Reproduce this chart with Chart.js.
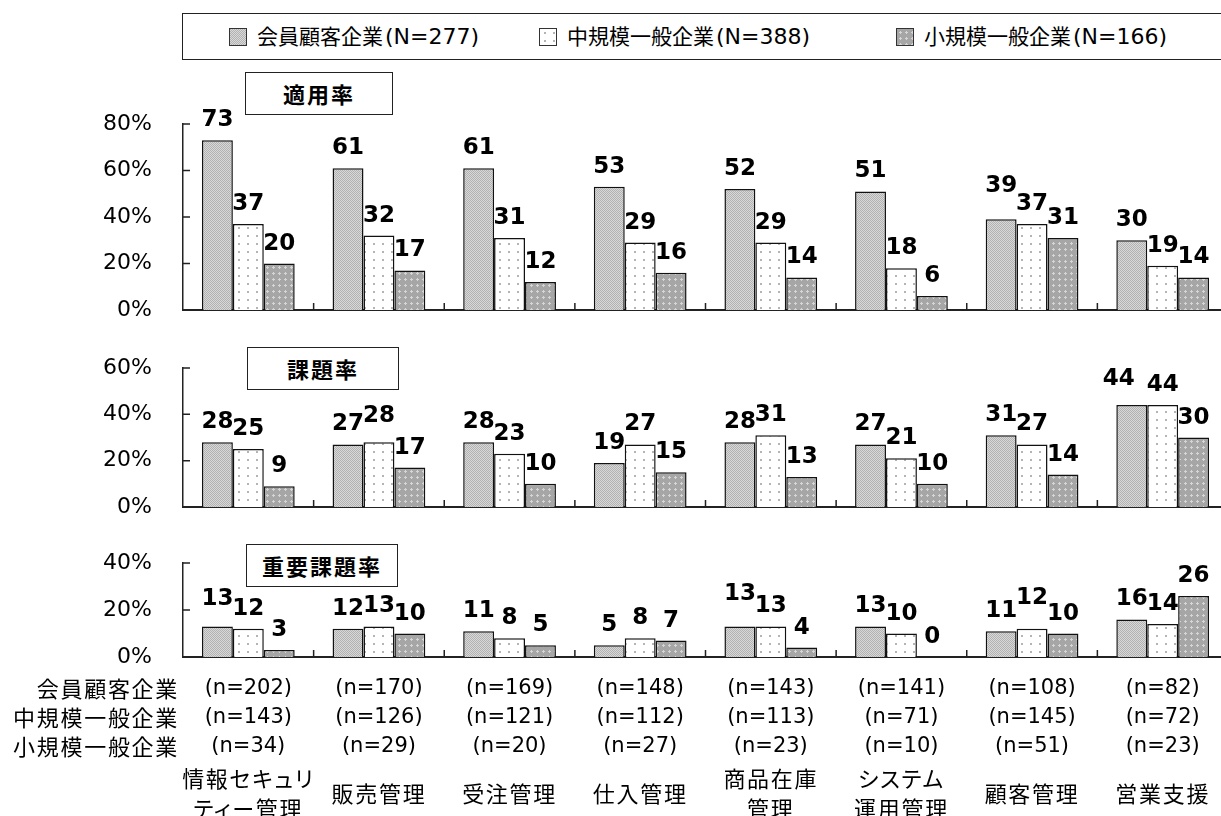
<!DOCTYPE html>
<html>
<head>
<meta charset="utf-8">
<script src="https://cdn.jsdelivr.net/npm/chart.js@4/dist/chart.umd.min.js"></script>
<style>
  html, body { margin: 0; padding: 0; background: #fff; overflow: hidden; }
  #wrap { position: relative; width: 1221px; height: 816px; overflow: hidden; background: #fff; }
  canvas.panel { position: absolute; left: 0; top: 0; }
  .t { position: absolute; white-space: nowrap; color: #000;
       font-family: "DejaVu Sans", "Noto Sans CJK JP", sans-serif; }
  .jp { font-family: "Noto Sans CJK JP", sans-serif; font-size: 22px; letter-spacing: 1.7px;
        font-feature-settings: "palt"; }
  .num { font-family: "DejaVu Sans", sans-serif; font-size: 21px; }
  #legend { position: absolute; left: 182px; top: 13px; width: 1100px; height: 45px;
            border: 1.5px solid #222; background: #fff; z-index: 2; }
  .sw { position: absolute; width: 16px; height: 16px; border: 1px solid #333; }
  .ltxt { position: absolute; font-size: 21px; line-height: 24px; }
  .ltxt .lat { font-family: "DejaVu Sans", sans-serif; font-size: 22px; margin-left: 2px; }
  .title { position: absolute; border: 1.5px solid #222; background: #fff; z-index: 2;
           font-family: "Noto Sans CJK JP", sans-serif; font-weight: bold; font-size: 22px;
           letter-spacing: 2px; text-align: center; box-sizing: border-box; }
</style>
</head>
<body>
<div id="wrap"></div>
<script>
// ---- data ----
const categories = [
  ["情報セキュリ", "ティー管理"], ["販売管理"], ["受注管理"], ["仕入管理"],
  ["商品在庫", "管理"], ["システム", "運用管理"], ["顧客管理"], ["営業支援"]
];
const seriesNames = ["会員顧客企業", "中規模一般企業", "小規模一般企業"];
const seriesTotals = [277, 388, 166];

// 適用率 (%)
const applyMember = [73, 61, 61, 53, 52, 51, 39, 30];
const applyMid    = [37, 32, 31, 29, 29, 18, 37, 19];
const applySmall  = [20, 17, 12, 16, 14, 6, 31, 14];
// 課題率 (%)
const issueMember = [28, 27, 28, 19, 28, 27, 31, 44];
const issueMid    = [25, 28, 23, 27, 31, 21, 27, 44];
const issueSmall  = [9, 17, 10, 15, 13, 10, 14, 30];
// 重要課題率 (%)
const keyMember   = [13, 12, 11, 5, 13, 13, 11, 16];
const keyMid      = [12, 13, 8, 8, 13, 10, 12, 14];
const keySmall    = [3, 10, 5, 7, 4, 0, 10, 26];

// respondents per category
const nMember = [202, 170, 169, 148, 143, 141, 108, 82];
const nMid    = [143, 126, 121, 112, 113, 71, 145, 72];
const nSmall  = [34, 29, 20, 27, 23, 10, 51, 23];

const panelTitles = ["適用率", "課題率", "重要課題率"];
const yTicksApply = [0, 20, 40, 60, 80];
const yTicksIssue = [0, 20, 40, 60];
const yTicksKey   = [0, 20, 40];

// hand-placed value labels that would otherwise collide: "panel:series:category" -> [dx, dy]
const labelNudges = {
  '0:0:6': [0, -13],
  '1:1:1': [0, -6],
  '1:0:7': [-13, -6],
  '2:0:0': [0, -7],
  '2:0:4': [0, -12],
  '2:1:6': [0, -11]
};

// ---- fill patterns ----
function makeTile(w, h, paint) {
  const c = document.createElement('canvas');
  c.width = w; c.height = h;
  paint(c.getContext('2d'));
  return c;
}
const tiles = [
  // fine stipple
  makeTile(2, 2, g => {
    g.fillStyle = '#d8d8d8'; g.fillRect(0, 0, 2, 2);
    g.fillStyle = '#b2b2b2'; g.fillRect(0, 0, 1, 1); g.fillRect(1, 1, 1, 1);
  }),
  // sparse dots on white
  makeTile(9, 8, g => {
    g.fillStyle = '#ffffff'; g.fillRect(0, 0, 9, 8);
    g.fillStyle = '#b4b4b4'; g.fillRect(4, 3, 2, 2);
  }),
  // light crosses on grey
  makeTile(6, 6, g => {
    g.fillStyle = '#a6a6a6'; g.fillRect(0, 0, 6, 6);
    g.fillStyle = '#d6d6d6'; g.fillRect(2, 3, 3, 1); g.fillRect(3, 2, 1, 3);
  })
];
const patCtx = document.createElement('canvas').getContext('2d');
const patterns = tiles.map(t => patCtx.createPattern(t, 'repeat'));

// ---- plugins ----
const valueLabels = {
  id: 'valueLabels',
  afterDatasetsDraw(chart) {
    const ctx = chart.ctx;
    const panel = chart.options.plugins.valueLabels.panel;
    ctx.save();
    ctx.font = 'bold 23px "DejaVu Sans"';
    ctx.textAlign = 'center';
    ctx.textBaseline = 'alphabetic';
    ctx.fillStyle = '#000';
    chart.data.datasets.forEach((ds, di) => {
      chart.getDatasetMeta(di).data.forEach((el, i) => {
        const [dx, dy] = labelNudges[panel + ':' + di + ':' + i] || [0, 0];
        ctx.fillText(String(ds.data[i]), el.x + dx, el.y - 14 + dy);
      });
    });
    ctx.restore();
  }
};

// tick marks pointing into the plot area
const innerTicks = {
  id: 'innerTicks',
  afterDraw(chart) {
    const { ctx, chartArea: a, scales: { x, y } } = chart;
    ctx.save();
    ctx.strokeStyle = '#222';
    ctx.lineWidth = 1.5;
    ctx.beginPath();
    y.ticks.forEach(t => {
      if (t.value === 0) return;
      const py = y.getPixelForValue(t.value);
      ctx.moveTo(a.left, py); ctx.lineTo(a.left + 7, py);
    });
    for (let i = 1; i <= categories.length; i++) {
      const px = x.getPixelForValue(i - 0.5);
      ctx.moveTo(px, a.bottom); ctx.lineTo(px, a.bottom - 7);
    }
    ctx.stroke();
    ctx.restore();
  }
};

// ---- panels ----
const W = 1240, H = 816;
const wrap = document.getElementById('wrap');

function makePanel(panel, series, ticks, axisTop, axisBottom) {
  const cv = document.createElement('canvas');
  cv.className = 'panel';
  cv.width = W; cv.height = H;
  cv.style.width = W + 'px'; cv.style.height = H + 'px';
  wrap.appendChild(cv);
  return new Chart(cv, {
    type: 'bar',
    data: {
      labels: categories.map(c => c.join('')),
      datasets: series.map((data, i) => ({
        label: seriesNames[i],
        data: data,
        backgroundColor: patterns[i],
        borderColor: '#111',
        borderWidth: 1.5,
        categoryPercentage: 0.71,
        barPercentage: 1.0
      }))
    },
    options: {
      responsive: false,
      animation: false,
      devicePixelRatio: 1,
      events: [],
      layout: { padding: { top: axisTop, bottom: H - axisBottom, left: 0, right: 12 } },
      plugins: {
        legend: { display: false },
        tooltip: { enabled: false },
        valueLabels: { panel: panel }
      },
      scales: {
        x: {
          grid: { display: false, drawTicks: false },
          ticks: { display: false },
          border: { display: true, color: '#222', width: 2 }
        },
        y: {
          min: ticks[0], max: ticks[ticks.length - 1],
          afterBuildTicks(scale) { scale.ticks = ticks.map(v => ({ value: v })); },
          afterFit(scale) { scale.width = 183; },
          grid: { display: false, drawTicks: false },
          border: { display: true, color: '#222', width: 1.5 },
          ticks: {
            padding: 31,
            color: '#000',
            font: { family: 'DejaVu Sans', size: 22 },
            callback: v => v + '%'
          }
        }
      }
    },
    plugins: [valueLabels, innerTicks]
  });
}

makePanel(0, [applyMember, applyMid, applySmall], yTicksApply, 124, 310);
makePanel(1, [issueMember, issueMid, issueSmall], yTicksIssue, 368, 507);
const bottomChart = makePanel(2, [keyMember, keyMid, keySmall], yTicksKey, 563, 657);

// ---- legend ----
const legend = document.createElement('div');
legend.id = 'legend';
wrap.appendChild(legend);
const swatchX = [229, 539, 896];
seriesNames.forEach((name, i) => {
  const sw = document.createElement('div');
  sw.className = 'sw';
  sw.style.left = (swatchX[i] - 183) + 'px';
  sw.style.top = (28 - 14) + 'px';
  sw.style.backgroundImage = 'url(' + tiles[i].toDataURL() + ')';
  legend.appendChild(sw);
  const tx = document.createElement('div');
  tx.className = 't ltxt';
  tx.style.left = (swatchX[i] + 28 - 183) + 'px';
  tx.style.top = (37 - 12 - 14) + 'px';
  tx.textContent = name;
  const lat = document.createElement('span');
  lat.className = 'lat';
  lat.textContent = '(N=' + seriesTotals[i] + ')';
  tx.appendChild(lat);
  legend.appendChild(tx);
});

// ---- panel titles ----
const titleBoxes = [
  { left: 245, top: 72, w: 148, h: 43 },
  { left: 247, top: 347, w: 152, h: 43 },
  { left: 246, top: 544, w: 152, h: 43 }
];
panelTitles.forEach((txt, i) => {
  const b = titleBoxes[i];
  const d = document.createElement('div');
  d.className = 'title';
  d.style.left = b.left + 'px'; d.style.top = b.top + 'px';
  d.style.width = b.w + 'px'; d.style.height = b.h + 'px';
  d.style.lineHeight = (b.h - 3) + 'px';
  d.textContent = txt;
  wrap.appendChild(d);
});

// ---- sample sizes and category names under the axis ----
const rowY = [687, 716, 745];
const nRows = [nMember, nMid, nSmall];
const LH = 30;
function place(lines, cls, cx, cy) {
  const d = document.createElement('div');
  d.className = 't ' + cls;
  d.style.left = cx + 'px';
  d.style.top = (cy - lines.length * LH / 2) + 'px';
  d.style.lineHeight = LH + 'px';
  d.style.transform = 'translateX(-50%)';
  d.style.textAlign = 'center';
  lines.forEach((ln, k) => {
    if (k) d.appendChild(document.createElement('br'));
    d.appendChild(document.createTextNode(ln));
  });
  wrap.appendChild(d);
}
seriesNames.forEach((name, r) => {
  const d = document.createElement('div');
  d.className = 't jp';
  d.style.right = (1221 - 179) + 'px';
  d.style.top = (rowY[r] - LH / 2) + 'px';
  d.style.lineHeight = LH + 'px';
  d.textContent = name;
  wrap.appendChild(d);
});
const xs = bottomChart.scales.x;
categories.forEach((lines, i) => {
  const cx = xs.getPixelForValue(i);
  nRows.forEach((arr, r) => place(['(n=' + arr[i] + ')'], 'num', cx, rowY[r]));
  place(lines, 'jp', cx, 792);
});
</script>
</body>
</html>
